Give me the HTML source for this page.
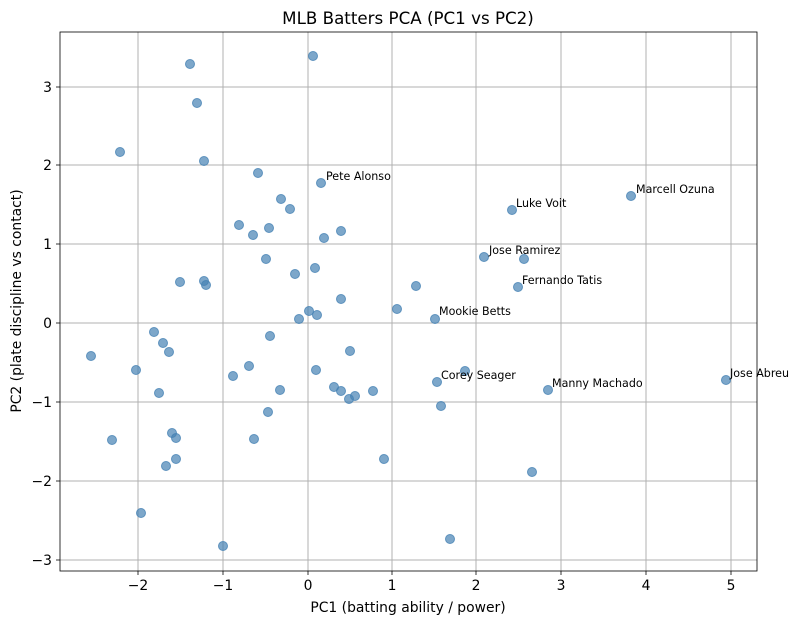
<!DOCTYPE html>
<html><head><meta charset="utf-8"><style>body{margin:0;background:#fff}svg{display:block;font-family:"DejaVu Sans","Liberation Sans",sans-serif}</style></head><body>
<svg width="798" height="624" xmlns="http://www.w3.org/2000/svg">
<rect width="798" height="624" fill="#fff"/>
<g stroke="#b0b0b0" stroke-width="1">
<line x1="138" y1="32" x2="138" y2="571"/><line x1="223" y1="32" x2="223" y2="571"/><line x1="308" y1="32" x2="308" y2="571"/><line x1="392" y1="32" x2="392" y2="571"/><line x1="476" y1="32" x2="476" y2="571"/><line x1="561" y1="32" x2="561" y2="571"/><line x1="646" y1="32" x2="646" y2="571"/><line x1="731" y1="32" x2="731" y2="571"/>
<line x1="60" y1="87" x2="757" y2="87"/><line x1="60" y1="165" x2="757" y2="165"/><line x1="60" y1="244" x2="757" y2="244"/><line x1="60" y1="323" x2="757" y2="323"/><line x1="60" y1="402" x2="757" y2="402"/><line x1="60" y1="481" x2="757" y2="481"/><line x1="60" y1="560" x2="757" y2="560"/>
</g>
<g fill="#4682b4" fill-opacity="0.7" stroke="#4682b4" stroke-opacity="0.8" stroke-width="1">
<circle cx="190" cy="64" r="4.5"/><circle cx="313" cy="56" r="4.5"/><circle cx="197" cy="103" r="4.5"/><circle cx="120" cy="152" r="4.5"/><circle cx="204" cy="161" r="4.5"/><circle cx="258" cy="173" r="4.5"/><circle cx="321" cy="183" r="4.5"/><circle cx="281" cy="199" r="4.5"/><circle cx="290" cy="209" r="4.5"/><circle cx="239" cy="225" r="4.5"/><circle cx="269" cy="228" r="4.5"/><circle cx="253" cy="235" r="4.5"/><circle cx="324" cy="238" r="4.5"/><circle cx="341" cy="231" r="4.5"/><circle cx="512" cy="210" r="4.5"/><circle cx="631" cy="196" r="4.5"/><circle cx="484" cy="257" r="4.5"/><circle cx="524" cy="259" r="4.5"/><circle cx="266" cy="259" r="4.5"/><circle cx="180" cy="282" r="4.5"/><circle cx="206" cy="285" r="4.5"/><circle cx="204" cy="281" r="4.5"/><circle cx="295" cy="274" r="4.5"/><circle cx="315" cy="268" r="4.5"/><circle cx="518" cy="287" r="4.5"/><circle cx="416" cy="286" r="4.5"/><circle cx="341" cy="299" r="4.5"/><circle cx="397" cy="309" r="4.5"/><circle cx="309" cy="311" r="4.5"/><circle cx="317" cy="315" r="4.5"/><circle cx="299" cy="319" r="4.5"/><circle cx="435" cy="319" r="4.5"/><circle cx="154" cy="332" r="4.5"/><circle cx="163" cy="343" r="4.5"/><circle cx="169" cy="352" r="4.5"/><circle cx="270" cy="336" r="4.5"/><circle cx="350" cy="351" r="4.5"/><circle cx="91" cy="356" r="4.5"/><circle cx="136" cy="370" r="4.5"/><circle cx="249" cy="366" r="4.5"/><circle cx="233" cy="376" r="4.5"/><circle cx="316" cy="370" r="4.5"/><circle cx="465" cy="371" r="4.5"/><circle cx="437" cy="382" r="4.5"/><circle cx="726" cy="380" r="4.5"/><circle cx="159" cy="393" r="4.5"/><circle cx="280" cy="390" r="4.5"/><circle cx="334" cy="387" r="4.5"/><circle cx="341" cy="391" r="4.5"/><circle cx="373" cy="391" r="4.5"/><circle cx="355" cy="396" r="4.5"/><circle cx="349" cy="399" r="4.5"/><circle cx="548" cy="390" r="4.5"/><circle cx="441" cy="406" r="4.5"/><circle cx="268" cy="412" r="4.5"/><circle cx="112" cy="440" r="4.5"/><circle cx="172" cy="433" r="4.5"/><circle cx="176" cy="438" r="4.5"/><circle cx="254" cy="439" r="4.5"/><circle cx="176" cy="459" r="4.5"/><circle cx="384" cy="459" r="4.5"/><circle cx="166" cy="466" r="4.5"/><circle cx="532" cy="472" r="4.5"/><circle cx="141" cy="513" r="4.5"/><circle cx="223" cy="546" r="4.5"/><circle cx="450" cy="539" r="4.5"/>
</g>
<g font-size="11.1" fill="#000">
<text x="326" y="180">Pete Alonso</text><text x="636" y="193">Marcell Ozuna</text><text x="516" y="207">Luke Voit</text><text x="489" y="254">Jose Ramirez</text><text x="522" y="284">Fernando Tatis</text><text x="439" y="315">Mookie Betts</text><text x="441" y="379">Corey Seager</text><text x="552" y="387">Manny Machado</text><text x="730" y="377">Jose Abreu</text>
</g>
<rect x="60" y="32" width="697" height="539" fill="none" stroke="#000" stroke-width="0.8"/>
<g stroke="#000" stroke-width="0.8">
<line x1="138" y1="571" x2="138" y2="575"/><line x1="223" y1="571" x2="223" y2="575"/><line x1="308" y1="571" x2="308" y2="575"/><line x1="392" y1="571" x2="392" y2="575"/><line x1="476" y1="571" x2="476" y2="575"/><line x1="561" y1="571" x2="561" y2="575"/><line x1="646" y1="571" x2="646" y2="575"/><line x1="731" y1="571" x2="731" y2="575"/>
<line x1="56" y1="87" x2="60" y2="87"/><line x1="56" y1="165" x2="60" y2="165"/><line x1="56" y1="244" x2="60" y2="244"/><line x1="56" y1="323" x2="60" y2="323"/><line x1="56" y1="402" x2="60" y2="402"/><line x1="56" y1="481" x2="60" y2="481"/><line x1="56" y1="560" x2="60" y2="560"/>
</g>
<g font-size="13.9" fill="#000" text-anchor="middle">
<text x="138" y="590">−2</text><text x="223" y="590">−1</text><text x="308" y="590">0</text><text x="392" y="590">1</text><text x="476" y="590">2</text><text x="561" y="590">3</text><text x="646" y="590">4</text><text x="731" y="590">5</text>
</g>
<g font-size="13.9" fill="#000" text-anchor="end">
<text x="52" y="92">3</text><text x="52" y="170">2</text><text x="52" y="249">1</text><text x="52" y="328">0</text><text x="52" y="407">−1</text><text x="52" y="486">−2</text><text x="52" y="565">−3</text>
</g>
<text x="408" y="612" font-size="13.9" text-anchor="middle">PC1 (batting ability / power)</text>
<text x="21" y="301" font-size="13.9" text-anchor="middle" transform="rotate(-90 21 301)">PC2 (plate discipline vs contact)</text>
<text x="408" y="24" font-size="16.7" text-anchor="middle">MLB Batters PCA (PC1 vs PC2)</text>
</svg>
</body></html>
